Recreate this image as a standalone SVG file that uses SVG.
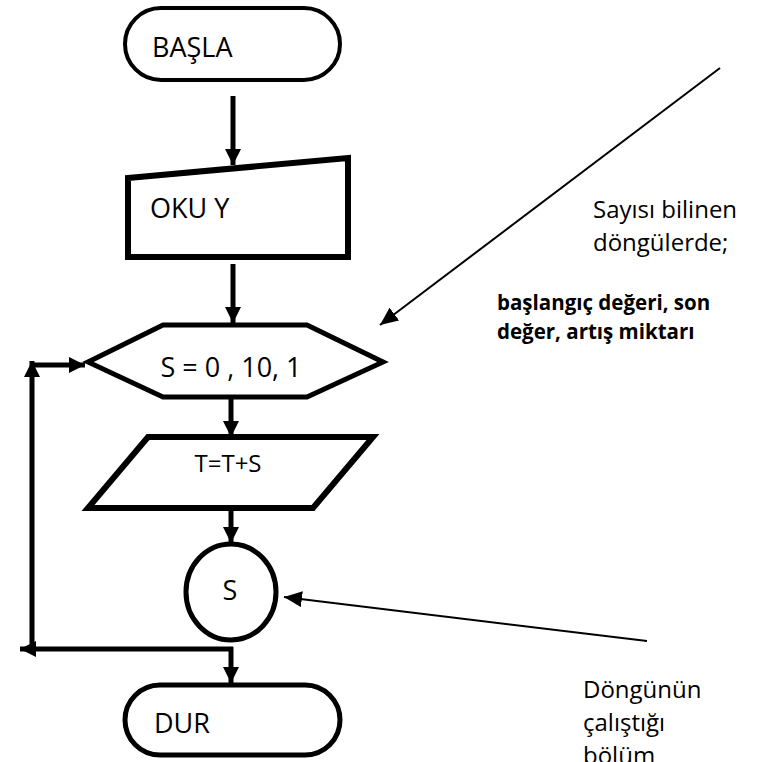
<svg xmlns="http://www.w3.org/2000/svg" width="760" height="762" viewBox="0 0 760 762">
  <style>
    .shape { fill: #ffffff; stroke: #000000; stroke-linejoin: miter; }
    .flow { fill: none; stroke: #000000; stroke-width: 5; }
    .note { fill: none; stroke: #000000; stroke-width: 2; }
    .lbl { font-family: "Open Sans", "Liberation Sans", sans-serif; fill: #000000; }
    .big { font-size: 27px; }
    .mid { font-size: 24px; }
    .bold { font-weight: bold; font-size: 20.5px; }
  </style>
  <defs>
    <marker id="headFlow" markerUnits="userSpaceOnUse" markerWidth="18" markerHeight="18" refX="16" refY="8" orient="auto">
      <path d="M0,0 L16,8 L0,16 Z" fill="#000000"/>
    </marker>
    <marker id="headNote" markerUnits="userSpaceOnUse" markerWidth="20" markerHeight="18" refX="18" refY="8" orient="auto">
      <path d="M0,0 L18,8 L0,16 Z" fill="#000000"/>
    </marker>
  </defs>

  <!-- flow connectors -->
  <g id="connectors">
    <line class="flow" x1="233" y1="96" x2="233" y2="165" marker-end="url(#headFlow)"/>
    <line class="flow" x1="233" y1="264" x2="233" y2="323" marker-end="url(#headFlow)"/>
    <line class="flow" x1="231" y1="399" x2="231" y2="437" marker-end="url(#headFlow)"/>
    <line class="flow" x1="231" y1="510" x2="231" y2="543" marker-end="url(#headFlow)"/>
    <!-- loop exit: back towards the left, and down to DUR -->
    <line class="flow" x1="233" y1="649" x2="20" y2="649" marker-end="url(#headFlow)"/>
    <line class="flow" x1="231" y1="647" x2="231" y2="683" marker-end="url(#headFlow)"/>
    <!-- loop return up the left side into the hexagon -->
    <line class="flow" x1="32" y1="651" x2="32" y2="361" marker-end="url(#headFlow)"/>
    <line class="flow" x1="30" y1="365" x2="85" y2="365" marker-end="url(#headFlow)"/>
    <!-- annotation pointers -->
    <line class="note" x1="720" y1="68" x2="380" y2="325" marker-end="url(#headNote)"/>
    <line class="note" x1="647" y1="641" x2="284" y2="597" marker-end="url(#headNote)"/>
  </g>

  <g id="start">
    <rect class="shape" x="125" y="8" width="215" height="72" rx="36" ry="36" stroke-width="4"/>
    <text class="lbl big" x="152" y="57">BAŞLA</text>
  </g>

  <g id="read">
    <polygon class="shape" points="128,178 348,158 348,257 128,257" stroke-width="6"/>
    <text class="lbl big" x="150" y="218">OKU Y</text>
  </g>

  <g id="loop">
    <polygon class="shape" points="88,362 163,325 307,325 383,362 307,397 163,397" stroke-width="5"/>
    <text class="lbl big" x="231" y="377" text-anchor="middle">S = 0 , 10, 1</text>
  </g>

  <g id="sum">
    <polygon class="shape" points="148,437 373,437 313,508 88,508" stroke-width="6"/>
    <text class="lbl mid" x="228" y="472" text-anchor="middle">T=T+S</text>
  </g>

  <g id="output">
    <ellipse class="shape" cx="231" cy="592" rx="45" ry="48" stroke-width="5"/>
    <text class="lbl big" x="230" y="600" text-anchor="middle">S</text>
  </g>

  <g id="stop">
    <rect class="shape" x="125" y="685" width="215" height="70" rx="35" ry="35" stroke-width="5"/>
    <text class="lbl big" x="154" y="733">DUR</text>
  </g>

  <g id="note-loop-params">
    <text class="lbl mid" x="593" y="218">Sayısı bilinen</text>
    <text class="lbl mid" x="593" y="251">döngülerde;</text>
    <text class="lbl bold" x="497" y="310">başlangıç değeri, son</text>
    <text class="lbl bold" x="497" y="339">değer, artış miktarı</text>
  </g>

  <g id="note-loop-body">
    <text class="lbl mid" x="583" y="698">Döngünün</text>
    <text class="lbl mid" x="583" y="731">çalıştığı</text>
    <text class="lbl mid" x="583" y="764">bölüm</text>
  </g>
</svg>
